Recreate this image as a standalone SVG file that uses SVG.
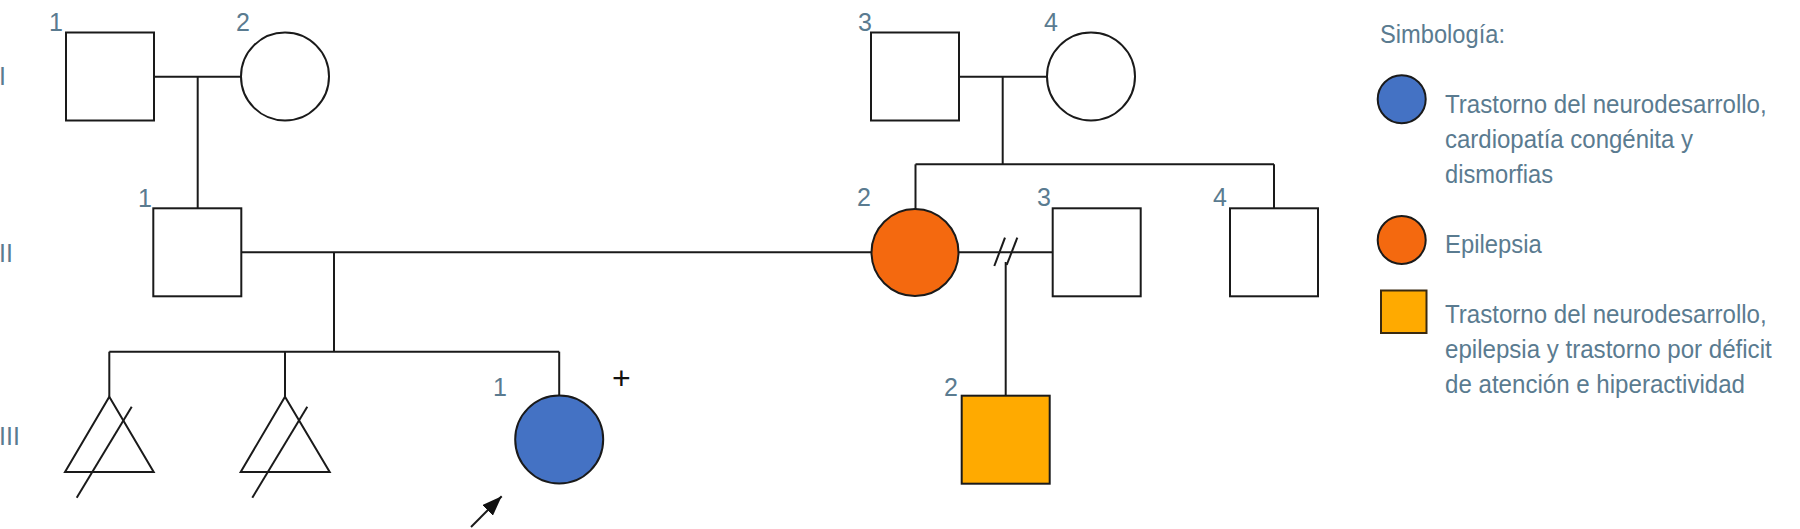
<svg xmlns="http://www.w3.org/2000/svg" width="1800" height="529" viewBox="0 0 1800 529">
<style>
.ln{stroke:#1a1a1a;stroke-width:2;fill:none}
.nd{stroke:#1a1a1a;stroke-width:2;fill:#ffffff}
.blue{fill:#4472C4}
.orange{fill:#F4690F}
.gold{fill:#FFAA00}
.lbl{font-family:"Liberation Sans",Arial,sans-serif;font-size:25px;fill:#5a7b90;text-anchor:end}
.gen{font-family:"Liberation Sans",Arial,sans-serif;font-size:25px;fill:#5a7b90}
.leg{font-family:"Liberation Sans",Arial,sans-serif;font-size:26px;fill:#5a7b90}
</style>
<defs>
<marker id="arr" viewBox="0 0 20 15" refX="20" refY="7.5" markerWidth="20" markerHeight="15" markerUnits="userSpaceOnUse" orient="auto">
<path d="M0,0 L20,7.5 L0,15 Z" fill="#111111"/>
</marker>
</defs>
<rect width="1800" height="529" fill="#ffffff"/>

<g id="generations">
<text class="gen" x="-1" y="85">I</text>
<text class="gen" x="-1" y="262">II</text>
<text class="gen" x="-1" y="445">III</text>
</g>

<g id="connectors">
<line class="ln" x1="154" y1="76.7" x2="241" y2="76.7"/>
<line class="ln" x1="197.7" y1="76.7" x2="197.7" y2="208.3"/>
<line class="ln" x1="959" y1="76.7" x2="1047" y2="76.7"/>
<line class="ln" x1="1002.7" y1="76.7" x2="1002.7" y2="164.3"/>
<line class="ln" x1="915.5" y1="164.3" x2="1274" y2="164.3"/>
<line class="ln" x1="915.5" y1="164.3" x2="915.5" y2="209"/>
<line class="ln" x1="1274" y1="164.3" x2="1274" y2="208.3"/>
<line class="ln" x1="241.3" y1="252.3" x2="871.5" y2="252.3"/>
<line class="ln" x1="334" y1="252.3" x2="334" y2="351.7"/>
<line class="ln" x1="109.3" y1="351.7" x2="559.2" y2="351.7"/>
<line class="ln" x1="109.3" y1="351.7" x2="109.3" y2="396.7"/>
<line class="ln" x1="285" y1="351.7" x2="285" y2="396.7"/>
<line class="ln" x1="559.2" y1="351.7" x2="559.2" y2="395.5"/>
<line class="ln" x1="958.5" y1="252.3" x2="1052.7" y2="252.3"/>
<line class="ln" x1="994.3" y1="266" x2="1005" y2="237.7"/>
<line class="ln" x1="1006.7" y1="265" x2="1017.3" y2="237.7"/>
<line class="ln" x1="1005.7" y1="262" x2="1005.7" y2="395.7"/>
<line class="ln" x1="471" y1="527" x2="501.7" y2="496.2" marker-end="url(#arr)"/>
</g>

<g id="I-1"><rect class="nd" x="66" y="32.5" width="88" height="88"/><text class="lbl" x="63" y="31">1</text></g>
<g id="I-2"><circle class="nd" cx="285" cy="76.5" r="44"/><text class="lbl" x="250" y="31">2</text></g>
<g id="I-3"><rect class="nd" x="871" y="32.5" width="88" height="88"/><text class="lbl" x="872" y="31">3</text></g>
<g id="I-4"><circle class="nd" cx="1091" cy="76.5" r="44"/><text class="lbl" x="1058" y="31">4</text></g>

<g id="II-1"><rect class="nd" x="153.3" y="208.3" width="88" height="88"/><text class="lbl" x="152" y="207">1</text></g>
<g id="II-2"><circle class="nd orange" cx="915" cy="252.5" r="43.5"/><text class="lbl" x="871" y="206">2</text></g>
<g id="II-3"><rect class="nd" x="1052.7" y="208.3" width="88" height="88"/><text class="lbl" x="1051" y="206">3</text></g>
<g id="II-4"><rect class="nd" x="1230" y="208.3" width="88" height="88"/><text class="lbl" x="1227" y="206">4</text></g>

<g id="III-a"><path class="ln" d="M109.3,396.7 L153.7,472 L65,472 Z"/><line class="ln" x1="76.7" y1="497.7" x2="131.7" y2="406.7"/></g>
<g id="III-b"><path class="ln" d="M285,396.7 L329.7,472 L240.7,472 Z"/><line class="ln" x1="252.3" y1="497.7" x2="307.3" y2="406.7"/></g>
<g id="III-1"><circle class="nd blue" cx="559.2" cy="439.5" r="44"/><text class="lbl" x="507" y="396">1</text><text x="621.3" y="389" font-family="Liberation Sans,Arial,sans-serif" font-size="32" fill="#111111" text-anchor="middle">+</text></g>
<g id="III-2"><rect class="nd gold" x="961.7" y="395.7" width="88" height="88"/><text class="lbl" x="958" y="396">2</text></g>

<g id="legend">
<text class="leg" x="1380" y="43.3" textLength="125" lengthAdjust="spacingAndGlyphs">Simbología:</text>
<circle class="nd blue" cx="1401.7" cy="99.2" r="24"/>
<text class="leg" x="1445" y="113.3" textLength="321.7" lengthAdjust="spacingAndGlyphs">Trastorno del neurodesarrollo,</text>
<text class="leg" x="1445" y="148" textLength="248" lengthAdjust="spacingAndGlyphs">cardiopatía congénita y</text>
<text class="leg" x="1445" y="182.7" textLength="108" lengthAdjust="spacingAndGlyphs">dismorfias</text>
<circle class="nd orange" cx="1401.7" cy="240" r="24"/>
<text class="leg" x="1445" y="253.3" textLength="96.7" lengthAdjust="spacingAndGlyphs">Epilepsia</text>
<rect x="1381" y="290.5" width="45.5" height="42.5" fill="#FFAA00" stroke="#3a2a10" stroke-width="2"/>
<text class="leg" x="1445" y="323.3" textLength="321.7" lengthAdjust="spacingAndGlyphs">Trastorno del neurodesarrollo,</text>
<text class="leg" x="1445" y="358.3" textLength="326.7" lengthAdjust="spacingAndGlyphs">epilepsia y trastorno por déficit</text>
<text class="leg" x="1445" y="392.7" textLength="300" lengthAdjust="spacingAndGlyphs">de atención e hiperactividad</text>
</g>
</svg>
